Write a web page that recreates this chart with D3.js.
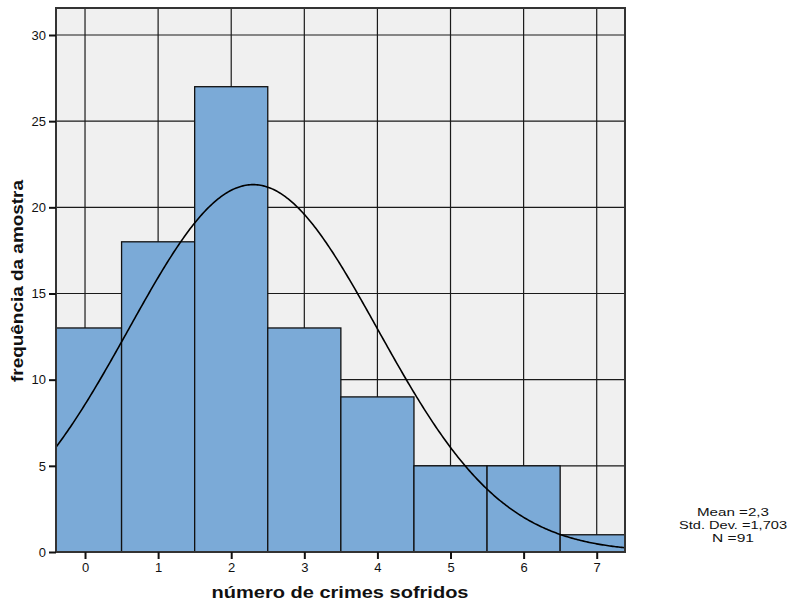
<!DOCTYPE html>
<html>
<head>
<meta charset="utf-8">
<script src="https://cdn.jsdelivr.net/npm/d3@7"></script>
<style>
  body { margin: 0; background: #fff; }
  text { font-family: Arial, "Liberation Sans", sans-serif; }
</style>
</head>
<body>
<div id="chart"></div>
<script>
// Data
const bins = [0, 1, 2, 3, 4, 5, 6, 7]
const counts = [13, 18, 27, 13, 9, 5, 5, 1]
const yTicks = [0, 5, 10, 15, 20, 25, 30]
const stats = ['Mean =2,3', 'Std. Dev. =1,703', 'N =91']
const statWidths = [72, 108, 42]
const MEAN = 2.3
const SD = 1.703
const N = 91

const W = 790
const H = 603
const plot = { left: 56, right: 625, top: 8, bottom: 552 }

const x = d3.scaleLinear().domain([-0.397, 7.387]).range([plot.left, plot.right])
const y = d3.scaleLinear().domain([0, 30]).range([plot.bottom, 35])

const svg = d3.select('#chart')
  .append('svg')
  .attr('width', W)
  .attr('height', H)

svg.append('defs').append('clipPath').attr('id', 'clip')
  .append('rect')
  .attr('x', plot.left).attr('y', plot.top)
  .attr('width', plot.right - plot.left)
  .attr('height', plot.bottom - plot.top)

// Background
svg.append('rect')
  .attr('x', plot.left).attr('y', plot.top)
  .attr('width', plot.right - plot.left)
  .attr('height', plot.bottom - plot.top)
  .attr('fill', '#f0f0f0')

// Grid lines
const grid = svg.append('g').attr('stroke', '#1a1a1a').attr('stroke-width', 1.2)
grid.selectAll('line.v').data(bins).enter().append('line')
  .attr('x1', d => x(d)).attr('x2', d => x(d))
  .attr('y1', plot.top).attr('y2', plot.bottom)
grid.selectAll('line.h').data(yTicks.slice(1)).enter().append('line')
  .attr('x1', plot.left).attr('x2', plot.right)
  .attr('y1', d => y(d)).attr('y2', d => y(d))

// Bars
const inner = svg.append('g').attr('clip-path', 'url(#clip)')
inner.selectAll('rect.bar')
  .data(bins)
  .enter()
  .append('rect')
  .attr('x', d => x(d - 0.5))
  .attr('y', (d, i) => y(counts[i]))
  .attr('width', x(1) - x(0))
  .attr('height', (d, i) => y(0) - y(counts[i]))
  .attr('fill', '#7baad7')
  .attr('stroke', '#111')
  .attr('stroke-width', 1.3)

// Normal curve
const curvePts = d3.range(-0.5, 7.5, 0.02).map(v => [
  v,
  N * Math.exp(-0.5 * ((v - MEAN) / SD) ** 2) / (SD * Math.sqrt(2 * Math.PI))
])
inner.append('path')
  .datum(curvePts)
  .attr('d', d3.line().x(d => x(d[0])).y(d => y(d[1])))
  .attr('fill', 'none')
  .attr('stroke', '#000')
  .attr('stroke-width', 1.6)

// Frame
svg.append('rect')
  .attr('x', plot.left).attr('y', plot.top)
  .attr('width', plot.right - plot.left)
  .attr('height', plot.bottom - plot.top)
  .attr('fill', 'none')
  .attr('stroke', '#333')
  .attr('stroke-width', 2)

// Axes
const xAxis = svg.append('g')
  .attr('transform', `translate(0,${plot.bottom})`)
  .call(d3.axisBottom(x).tickValues(bins).tickSize(7).tickPadding(4))
const yAxis = svg.append('g')
  .attr('transform', `translate(${plot.left},0)`)
  .call(d3.axisLeft(y).tickValues(yTicks).tickSize(7).tickPadding(3))
for (const ax of [xAxis, yAxis]) {
  ax.select('.domain').remove()
  ax.selectAll('line').attr('stroke', '#111').attr('stroke-width', 2)
  ax.selectAll('text').attr('font-size', 13).attr('fill', '#111')
    .attr('font-family', 'Arial, "Liberation Sans", sans-serif')
}

// Titles
svg.append('text')
  .attr('x', 340).attr('y', 598)
  .attr('text-anchor', 'middle')
  .attr('font-size', 17).attr('font-weight', 'bold').attr('fill', '#111')
  .attr('textLength', 257).attr('lengthAdjust', 'spacingAndGlyphs')
  .text('número de crimes sofridos')
svg.append('text')
  .attr('transform', `translate(23,281) rotate(-90)`)
  .attr('text-anchor', 'middle')
  .attr('font-size', 17).attr('font-weight', 'bold').attr('fill', '#111')
  .attr('textLength', 202).attr('lengthAdjust', 'spacingAndGlyphs')
  .text('frequência da amostra')

// Stats box
svg.append('g').selectAll('text')
  .data(stats)
  .enter()
  .append('text')
  .attr('x', 733)
  .attr('y', (d, i) => 516 + i * 13)
  .attr('text-anchor', 'middle')
  .attr('font-size', 11).attr('fill', '#111')
  .attr('textLength', (d, i) => statWidths[i]).attr('lengthAdjust', 'spacingAndGlyphs')
  .text(d => d)
</script>
</body>
</html>
